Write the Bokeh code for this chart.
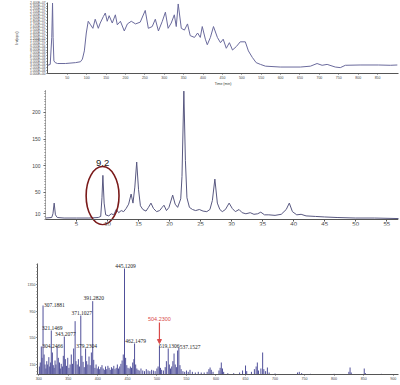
from bokeh.plotting import figure
from bokeh.models import (ColumnDataSource, FixedTicker, Label, LabelSet, Arrow,
                          NormalHead, Range1d)
from bokeh.embed import file_html
from bokeh.resources import INLINE

FONT = "Liberation Sans"

# ---------------- panel a : total ion trace ----------------
a_scan = [0, 6, 10, 12, 13.5, 15.5, 19, 25, 45, 71, 84, 89, 94, 99, 104, 110, 116, 122,
          130, 135, 143, 148, 153, 158, 166, 174, 179, 187, 197, 205, 215, 226, 238, 251,
          259, 269, 277, 285, 295, 303, 310, 318, 326, 331, 336, 344, 352, 360, 367, 378,
          386, 393, 398, 406, 411, 419, 427, 437, 445, 452, 460, 468, 476, 486, 496, 509,
          517, 527, 537, 548, 561, 599, 651, 677, 694, 707, 720, 741, 754, 767, 805, 852,
          883, 901]
a_int = [2.8, 3.1, 12.3, 24.0, 12.3, 4.3, 3.7, 3.4, 3.4, 3.7, 4.0, 4.9, 7.7, 13.8, 17.8,
         16.6, 15.4, 18.5, 15.4, 17.2, 19.4, 20.6, 17.8, 19.7, 17.2, 20.0, 16.6, 17.8, 14.5,
         16.9, 17.8, 16.9, 17.5, 21.5, 15.4, 16.0, 18.5, 14.5, 17.8, 20.9, 15.4, 17.2, 20.0,
         16.0, 23.7, 15.4, 14.8, 16.9, 12.9, 12.3, 13.8, 12.3, 16.0, 11.7, 9.8, 12.3, 16.0,
         12.3, 10.5, 11.7, 8.6, 10.5, 8.0, 9.2, 10.8, 10.8, 7.7, 5.5, 3.7, 3.1, 2.5, 2.2,
         2.2, 2.5, 3.4, 2.8, 3.1, 2.2, 2.0, 2.8, 2.9, 2.9, 2.8, 2.9]
a_xticks = [50, 100, 150, 200, 250, 300, 350, 400, 450, 500, 550, 600, 650, 700, 750, 800, 850]
a_yticks = list(range(0, 25))
a_ylabels = ["%.3E" % (t * 1.0e6) for t in a_yticks]

# ---------------- panel b : chromatogram ----------------
b_time = [0, 1.0, 1.2, 1.4, 1.6, 1.9, 3, 5, 7, 8.5, 8.9, 9.1, 9.25, 9.45, 9.7, 10.2, 10.6,
          11.0, 11.4, 11.8, 12.2, 12.6, 13.0, 13.4, 13.8, 14.1, 14.4, 14.7, 15.0, 15.3, 15.7,
          16.2, 16.6, 17.0, 17.4, 17.9, 18.4, 18.8, 19.1, 19.5, 19.9, 20.5, 20.9, 21.3, 21.8,
          22.0, 22.3, 22.55, 22.8, 23.2, 23.7, 24.2, 24.8, 25.4, 26.0, 26.5, 26.9, 27.3,
          27.7, 28.1, 28.5, 29.0, 29.6, 30.1, 30.6, 31.2, 31.7, 32.3, 33.0, 33.6, 34.2, 34.7,
          35.3, 36.0, 37.0, 38.0, 38.8, 39.3, 39.8, 40.5, 41.2, 42.0, 43.5, 45.0, 47, 50, 53,
          57]
b_int = [2, 3, 10, 30, 8, 3, 2, 2, 2, 3, 5, 40, 82, 30, 8, 6, 10, 8, 18, 12, 16, 14, 20,
         28, 47, 30, 60, 107, 55, 25, 18, 15, 22, 30, 20, 14, 16, 22, 26, 16, 22, 45, 28,
         22, 38, 80, 240, 110, 40, 22, 18, 16, 18, 15, 14, 18, 35, 75, 30, 18, 14, 18, 30,
         20, 14, 18, 12, 10, 12, 9, 10, 13, 8, 8, 7, 9, 18, 30, 14, 8, 9, 6, 5, 4, 3, 2, 2,
         1]
b_xticks = [5, 10, 15, 20, 25, 30, 35, 40, 45, 50, 55]
b_yticks = [10, 50, 100, 150, 200]
b_peak_time = 9.2

# ---------------- panel c : mass spectrum ----------------
c_mz = [301, 302.5, 304.2466, 305.5, 307.1881, 309, 310.5, 312, 313.5, 315, 317, 318.5,
        320, 321.1469, 323, 324.5, 326, 327.5, 329, 331, 333, 335, 336.5, 338, 340, 341.5,
        343.2077, 345, 347, 349, 351, 353, 355, 357, 359, 361.5, 363, 365, 367, 369,
        371.1027, 373, 375, 377, 379.2304, 381, 383, 385, 387, 389, 391.2820, 393, 395, 397,
        399, 401, 403, 405, 407, 409, 411, 413, 415, 417, 419, 421, 423, 425, 427, 429, 431,
        433, 435, 437, 439, 441, 443, 445.1209, 447, 449, 451, 453, 455, 457, 459, 461,
        462.1479, 464, 466, 468, 470, 473, 476, 479, 482, 485, 488, 491, 494, 497, 500, 502,
        504.2300, 506, 508, 511, 514, 516, 519.1306, 521, 523, 525, 527, 529, 531, 533, 535,
        537.1527, 539, 541, 544, 547, 550, 553, 556, 560, 565, 570, 575, 580, 585, 588, 590,
        592, 595, 605, 607, 609, 611, 613, 620, 630, 640, 645, 650, 652, 660, 665, 668, 670,
        672, 676, 679, 681, 684, 687, 690, 700, 738, 741, 745, 760, 800, 825, 827, 829, 851,
        853, 880]
c_int = [120, 180, 420, 250, 1035, 300, 150, 90, 200, 150, 260, 120, 180, 660, 330, 140,
         100, 210, 150, 420, 250, 180, 90, 160, 120, 280, 570, 230, 130, 250, 100, 150, 300,
         160, 390, 800, 200, 150, 230, 120, 885, 280, 190, 110, 390, 200, 150, 270, 140,
         330, 1100, 220, 100, 150, 90, 120, 80, 110, 140, 90, 70, 120, 80, 130, 100, 70, 110,
         90, 130, 80, 100, 150, 90, 120, 160, 210, 300, 1590, 250, 140, 100, 90, 120, 100,
         180, 230, 465, 150, 90, 70, 60, 90, 60, 50, 80, 60, 50, 70, 60, 50, 90, 120, 435,
         100, 70, 60, 110, 200, 390, 150, 90, 120, 200, 315, 150, 110, 360, 405, 140, 80, 50,
         40, 60, 40, 70, 40, 30, 40, 30, 30, 40, 80, 105, 70, 40, 60, 100, 180, 90, 40, 20,
         20, 30, 60, 135, 50, 40, 80, 120, 180, 60, 90, 330, 80, 50, 105, 30, 15, 30, 40, 20,
         10, 10, 40, 105, 30, 90, 20, 10]
c_lab_mz = [304.2466, 307.1881, 321.1469, 343.2077, 371.1027, 379.2304, 391.2820,
            445.1209, 462.1479, 519.1306, 537.1527]
c_lab_h = [420, 1035, 660, 570, 885, 390, 1100, 1590, 465, 390, 405]
c_lab_text = ["304.2466", "307.1881", "321.1469", "343.2077", "371.1027", "379.2304",
              "391.2820", "445.1209", "462.1479", "519.1306", "537.1527"]
c_lab_align = ["left", "left", "center", "center", "center", "center", "center", "center",
               "center", "center", "left"]
c_lab_base = ["middle", "middle", "bottom", "bottom", "bottom", "bottom", "bottom",
              "bottom", "bottom", "bottom", "middle"]
c_target_mz = 504.2300
c_target_h = 435
c_xticks = [300, 350, 400, 450, 500, 550, 600, 650, 700, 750, 800, 850, 900]
c_yticks = [150, 550, 950, 1350]


def base_style(p):
    p.outline_line_color = None
    p.xgrid.visible = False
    p.ygrid.visible = False
    p.background_fill_color = "white"
    p.border_fill_color = "white"
    for ax in p.axis:
        ax.axis_line_color = "#555555"
        ax.major_tick_line_color = "#555555"
        ax.minor_tick_line_color = "#777777"
        ax.major_label_text_font = FONT
        ax.axis_label_text_font = FONT
        ax.axis_label_text_font_style = "normal"
        ax.major_label_text_color = "#444444"
        ax.axis_label_text_color = "#333333"


# ---------- figure a ----------
pa = figure(width=400, height=88, output_backend="svg", toolbar_location=None,
            x_range=Range1d(-1, 904), y_range=Range1d(0, 24.2),
            min_border_left=47, min_border_right=2, min_border_top=2, min_border_bottom=8)
pa.line(a_scan, a_int, line_color="#6a6a9c", line_width=1)
base_style(pa)
pa.xaxis.ticker = FixedTicker(ticks=a_xticks, minor_ticks=[])
pa.yaxis.ticker = FixedTicker(ticks=a_yticks, minor_ticks=[])
pa.yaxis.major_label_overrides = {t: l for t, l in zip(a_yticks, a_ylabels)}
pa.xaxis.major_label_text_font_size = "3.5px"
pa.yaxis.major_label_text_font_size = "3.2px"
pa.xaxis.major_tick_out = 1
pa.xaxis.major_tick_in = 0
pa.yaxis.major_tick_out = 1
pa.yaxis.major_tick_in = 0
pa.xaxis.major_label_standoff = 1
pa.yaxis.major_label_standoff = 1
pa.yaxis.axis_label = "Int(cps)"
pa.yaxis.axis_label_text_font_size = "4px"
pa.yaxis.axis_label_standoff = 8
pa.xaxis.axis_label = "Time (min)"
pa.xaxis.axis_label_text_font_size = "3.5px"
pa.xaxis.axis_label_standoff = 0
pa.add_layout(Label(x=-114, y=24.3, text="a", text_font=FONT, text_font_style="bold",
                    text_font_size="8px", text_baseline="top", text_align="left"))

# ---------- figure b ----------
pb = figure(width=400, height=154, output_backend="svg", toolbar_location=None,
            x_range=Range1d(0, 56.9), y_range=Range1d(-12, 243),
            min_border_left=45, min_border_right=2, min_border_top=1, min_border_bottom=17)
pb.line(b_time, b_int, line_color="#585880", line_width=1)
pb.ellipse(x=b_peak_time, y=44, width=5.3, height=109, fill_color=None,
           line_color="#7a1a1a", line_width=1.6)
base_style(pb)
pb.xaxis.fixed_location = 0
pb.yaxis.bounds = (0, 243)
pb.xaxis.ticker = FixedTicker(ticks=b_xticks, minor_ticks=[])
pb.yaxis.ticker = FixedTicker(ticks=b_yticks, minor_ticks=list(range(0, 241, 5)))
pb.xaxis.major_label_text_font_size = "6px"
pb.yaxis.major_label_text_font_size = "5px"
pb.xaxis.major_tick_out = 2
pb.xaxis.major_tick_in = 0
pb.yaxis.major_tick_out = 2
pb.yaxis.major_tick_in = 0
pb.yaxis.minor_tick_out = 1
pb.yaxis.minor_tick_in = 0
pb.xaxis.major_label_standoff = 1
pb.yaxis.major_label_standoff = 3
pb.yaxis.axis_line_dash = "1 1"
pb.add_layout(Label(x=b_peak_time, y=100, text="9.2", text_font=FONT,
                    text_font_size="9.5px", text_align="center", text_baseline="bottom",
                    text_color="#222222"))
pb.add_layout(Label(x=42.3, y=-35, text="Time (min)", text_font=FONT, text_font_size="7px",
                    text_align="center", text_baseline="middle", text_color="#222222"))
pb.add_layout(Label(x=-6.8, y=245, text="b", text_font=FONT, text_font_style="bold",
                    text_font_size="10px", text_align="left", text_baseline="top"))
pb.add_layout(Label(x=-5.2, y=243, text="Intensity", text_font=FONT, text_font_size="4.5px",
                    text_align="left", text_baseline="top", text_color="#222222"))
pb.add_layout(Label(x=-5.2, y=232, text="X 10\u2075", text_font=FONT, text_font_size="4.5px",
                    text_align="left", text_baseline="top", text_color="#222222"))

# ---------- figure c ----------
pc = figure(width=400, height=143, output_backend="svg", toolbar_location=None,
            x_range=Range1d(297.8, 909), y_range=Range1d(0, 1665),
            min_border_left=37, min_border_right=2, min_border_top=21, min_border_bottom=11)
zeros = [0] * len(c_mz)
pc.segment(x0=c_mz, y0=zeros, x1=c_mz, y1=c_int, line_color="#50509a", line_width=1)
base_style(pc)
pc.xaxis.ticker = FixedTicker(ticks=c_xticks, minor_ticks=[])
pc.yaxis.ticker = FixedTicker(ticks=c_yticks, minor_ticks=list(range(0, 1651, 50)))
pc.xaxis.major_label_text_font_size = "3.6px"
pc.yaxis.major_label_text_font_size = "3.6px"
pc.xaxis.major_tick_out = 1
pc.xaxis.major_tick_in = 0
pc.yaxis.major_tick_out = 1
pc.yaxis.major_tick_in = 0
pc.yaxis.minor_tick_out = 1
pc.yaxis.minor_tick_in = 0
pc.xaxis.major_label_standoff = 1
pc.yaxis.major_label_standoff = 1
lab_src = ColumnDataSource(dict(x=c_lab_mz, y=c_lab_h, t=c_lab_text, a=c_lab_align,
                                b=c_lab_base))
pc.add_layout(LabelSet(x="x", y="y", text="t", source=lab_src, text_align="a",
                       text_baseline="b", x_offset=1, y_offset=1, text_font=FONT,
                       text_font_size="5.5px", text_color="#222222"))
red = "#d94a4a"
arrow_end = c_target_h + 30
arrow_start = arrow_end + 315
pc.add_layout(Arrow(end=NormalHead(size=4, fill_color=red, line_color=red),
                    x_start=c_target_mz, y_start=arrow_start, x_end=c_target_mz,
                    y_end=arrow_end, line_color=red, line_width=1.2))
pc.add_layout(Label(x=c_target_mz, y=arrow_start + 30, text="%.4f" % c_target_mz,
                    text_font=FONT, text_font_size="5.5px", text_align="center",
                    text_baseline="bottom", text_color=red))
pc.add_layout(Label(x=253.8, y=1920, text="c", text_font=FONT, text_font_style="bold",
                    text_font_size="8px", text_align="left", text_baseline="top"))
pc.add_layout(Label(x=274, y=1950, text="Intensity", text_font=FONT, text_font_size="3px",
                    text_align="left", text_baseline="top", text_color="#222222"))
pc.add_layout(Label(x=274, y=1890, text="X 10\u2075", text_font=FONT, text_font_size="3px",
                    text_align="left", text_baseline="top", text_color="#222222"))
pc.add_layout(Label(x=599, y=-135, text="m/z", text_font=FONT, text_font_size="3.5px",
                    text_align="center", text_baseline="middle", text_color="#222222"))

# three separate roots, stacked top to bottom, each with its own frame position
open("out.html", "w").write(file_html([pa, pb, pc], INLINE))
